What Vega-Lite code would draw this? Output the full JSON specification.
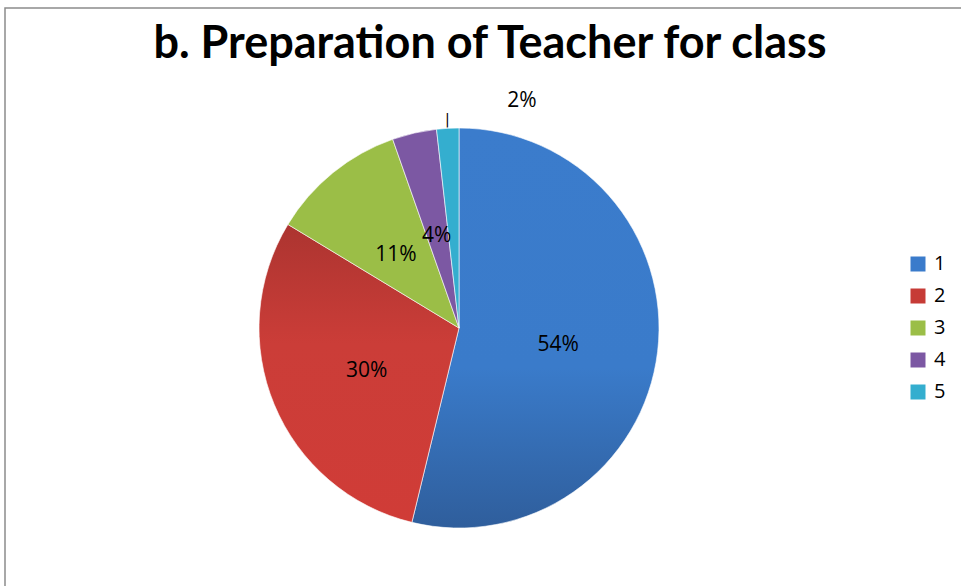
{
  "$schema": "https://vega.github.io/schema/vega-lite/v6.json",
  "autosize": "none",
  "width": 980,
  "height": 600,
  "padding": {"left": 5, "top": 8, "right": 0, "bottom": 0},
  "background": "white",
  "view": {"stroke": "#8c8c8c", "strokeWidth": 1.5},
  "config": {"view": {"stroke": "#8c8c8c", "strokeWidth": 1.5}},
  "title": {
    "text": "b. Preparation of Teacher for class",
    "font": "Lato",
    "fontWeight": "bold",
    "fontSize": 45,
    "color": "#000000",
    "anchor": "middle",
    "frame": "group",
    "baseline": "alphabetic",
    "offset": -95,
    "dx": -5
  },
  "data": {
    "values": [
      {"cat": "1", "value": 54, "label": "54%"},
      {"cat": "2", "value": 30, "label": "30%"},
      {"cat": "3", "value": 11, "label": "11%"},
      {"cat": "4", "value": 3.6, "label": "4%"},
      {"cat": "5", "value": 1.8, "label": "2%"}
    ]
  },
  "encoding": {
    "theta": {"field": "value", "type": "quantitative", "stack": true},
    "order": {"field": "cat", "type": "ordinal"},
    "color": {
      "field": "cat",
      "type": "nominal",
      "scale": {"domain": ["1", "2", "3", "4", "5"], "range": ["#3A7BCB", "#C63B36", "#9BBE47", "#7C58A3", "#34AECF"]},
      "legend": null
    }
  },
  "layer": [
    {
      "mark": {"type": "arc", "outerRadius": 200, "x": 454, "y": 320, "stroke": "white", "strokeWidth": 0.6},
      "encoding": {
        "fill": {
          "condition": [
            {"test": "datum.cat === '1'", "value": {"gradient": "linear", "x1": 0, "y1": 0, "x2": 0, "y2": 1, "stops": [{"offset": 0, "color": "#3B7CCC"}, {"offset": 0.6, "color": "#3A7BCA"}, {"offset": 1, "color": "#2F5E9C"}]}},
            {"test": "datum.cat === '2'", "value": {"gradient": "linear", "x1": 0, "y1": 0, "x2": 0, "y2": 1, "stops": [{"offset": 0, "color": "#AC3430"}, {"offset": 0.4, "color": "#CB3D38"}, {"offset": 1, "color": "#D03C37"}]}}
          ],
          "field": "cat",
          "type": "nominal",
          "scale": {"domain": ["1", "2", "3", "4", "5"], "range": ["#3A7BCB", "#C63B36", "#9BBE47", "#7C58A3", "#34AECF"]},
          "legend": {
            "title": null,
            "orient": "none",
            "legendX": 903,
            "legendY": 246,
            "symbolType": "square",
            "symbolSize": 225,
            "symbolStrokeWidth": 0,
            "labelFont": "Open Sans",
            "labelFontSize": 20,
            "labelColor": "#000000",
            "labelOffset": 6,
            "rowPadding": 12
          }
        }
      }
    },
    {
      "mark": {"type": "text", "radius": 100, "x": 454, "y": 320, "dy": 5, "font": "Open Sans", "fontSize": 21},
      "encoding": {
        "fill": {"value": "#000000"},
        "text": {"condition": {"test": "datum.cat !== '5'", "field": "label"}, "value": ""}
      }
    },
    {
      "mark": {"type": "text", "radius": 230, "x": 454, "y": 320, "dx": 76, "dy": 3, "font": "Open Sans", "fontSize": 21},
      "encoding": {
        "fill": {"value": "#000000"},
        "text": {"condition": {"test": "datum.cat === '5'", "field": "label"}, "value": ""}
      }
    },
    {
      "mark": {"type": "text", "radius": 208, "x": 454, "y": 320, "font": "DejaVu Sans", "fontSize": 14, "baseline": "middle"},
      "encoding": {
        "fill": {"value": "#000000"},
        "text": {"condition": {"test": "datum.cat === '5'", "value": "|"}, "value": ""}
      }
    }
  ]
}
